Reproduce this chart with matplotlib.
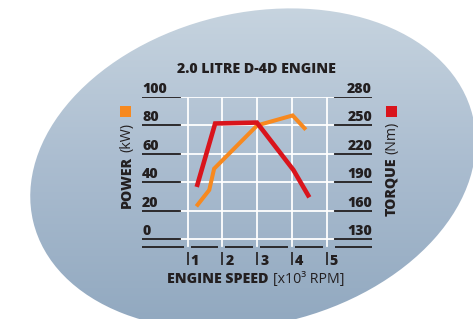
import numpy as np
import matplotlib
matplotlib.use("Agg")
import matplotlib.pyplot as plt
from matplotlib.patches import Ellipse, Rectangle
import matplotlib.transforms as mtransforms

# ---------------- data ----------------
rpm_power = [1.25, 1.62, 1.76, 3.0, 4.02, 4.4]
power_kw = [23, 34.5, 49.5, 80, 87, 77]

rpm_torque = [1.26, 1.79, 2.99, 4.04, 4.5]
torque_nm = [185, 252, 253, 203, 174]

power_ticks = [0, 20, 40, 60, 80, 100]
torque_ticks = [130, 160, 190, 220, 250, 280]
rpm_ticks = [1, 2, 3, 4, 5]

title = "2.0 LITRE D-4D ENGINE"

# ---------------- style ----------------
ORANGE = "#f7891f"
RED = "#d9141c"
DARK = "#231f20"
FONT = ["Open Sans", "DejaVu Sans"]
plt.rcParams["font.family"] = FONT
FS = 10.2
FW = 800

W, H = 473, 319
fig = plt.figure(figsize=(W / 100, H / 100), dpi=100)
fig.patch.set_facecolor("white")

# background tilted ellipse with a vertical gradient
bg = fig.add_axes([0, 0, 1, 1])
bg.set_xlim(0, W)
bg.set_ylim(H, 0)
bg.axis("off")
stops_y = [0, 160, H]
stops_c = [(0xc8, 0xd5, 0xe0), (0xab, 0xbd, 0xd0), (0x92, 0xa9, 0xc0)]
yy = np.arange(H)
grad = np.zeros((H, 1, 3))
for k in range(3):
    grad[:, 0, k] = np.interp(yy, stops_y, [cc[k] for cc in stops_c]) / 255.0
ell = Ellipse((253, 169), 452, 312, angle=-13.5, facecolor="none", edgecolor="none")
bg.add_patch(ell)
im = bg.imshow(grad, extent=(0, W, H, 0), aspect="auto", interpolation="bilinear")
im.set_clip_path(ell)

# ---------------- chart axes (pixel layout) ----------------
L, R, T, B = 142, 372, 97, 247
x1_px, unit_px = 187.7, 34.75
p0_px, p_per = 239.0, 1.42

ax = fig.add_axes([L / W, 1 - B / H, (R - L) / W, (B - T) / H])
xlo = (L - x1_px) / unit_px + 1
xhi = (R - x1_px) / unit_px + 1
ylo = -(B - p0_px) / p_per
yhi = (p0_px - T) / p_per
ax.set_xlim(xlo, xhi)
ax.set_ylim(ylo, yhi)
ax.patch.set_visible(False)
for s in ax.spines.values():
    s.set_visible(False)
ax.set_xticks([])
ax.set_yticks([])

ax2 = ax.twinx()
ax2.set_ylim(130 + 1.5 * ylo, 130 + 1.5 * yhi)
ax2.patch.set_visible(False)
for s in ax2.spines.values():
    s.set_visible(False)
ax2.set_yticks([])

gw = 1.3
wl = (180 - L) / (R - L)
wr = (333 - L) / (R - L)
br = (335 - L) / (R - L)
for val in power_ticks:
    ax.axhline(val, xmin=wl, xmax=wr, color="white", lw=gw, zorder=1)
    ax.axhline(val, xmin=0, xmax=wl, color=DARK, lw=gw, zorder=1)
    ax.axhline(val, xmin=br, xmax=1, color=DARK, lw=gw, zorder=1)
for r in rpm_ticks:
    ax.axvline(r, ymin=0.01, ymax=1, color="white", lw=gw, zorder=1)

# bottom broken baseline
xt = ax.get_xaxis_transform()
gl, gr = 4 / unit_px, 3 / unit_px
segs = [(xlo, rpm_ticks[0] - gl)]
for a, b in zip(rpm_ticks[:-1], rpm_ticks[1:]):
    segs.append((a + gr, b - gl))
segs.append(((335 - x1_px) / unit_px + 1, xhi))
for a, b in segs:
    ax.plot([a, b], [0, 0], color=DARK, lw=gw, transform=xt, clip_on=False,
            solid_capstyle="butt")

# x ticks: small bars + labels
for r in rpm_ticks:
    ax.plot([r, r], [-(251.7 - B) / (B - T), -(265 - B) / (B - T)], color=DARK,
            lw=1.2, transform=xt, clip_on=False, solid_capstyle="butt")
    ax.annotate(str(r), xy=(r, -(265 - B) / (B - T)), xycoords=xt,
                xytext=(3, 0), textcoords="offset pixels", ha="left", va="baseline",
                fontsize=FS, fontweight=FW, color=DARK)

# y tick labels
yt_l = mtransforms.blended_transform_factory(ax.transAxes, ax.transData)
for val in power_ticks:
    ax.annotate(str(val), xy=(0, val), xycoords=yt_l, xytext=(0, 4),
                textcoords="offset pixels", ha="left", va="baseline",
                fontsize=FS, fontweight=FW, color=DARK)
yt_r = mtransforms.blended_transform_factory(ax2.transAxes, ax2.transData)
for val in torque_ticks:
    ax2.annotate(str(val), xy=(1, val), xycoords=yt_r, xytext=(0, 4),
                 textcoords="offset pixels", ha="right", va="baseline",
                 fontsize=FS, fontweight=FW, color=DARK)

# data lines
ax.plot(rpm_power, power_kw, color=ORANGE, lw=2.9, solid_capstyle="butt",
        solid_joinstyle="miter", zorder=3, clip_on=False)
ax2.plot(rpm_torque, torque_nm, color=RED, lw=3.3, solid_capstyle="butt",
         solid_joinstyle="miter", zorder=4, clip_on=False)

# ---------------- texts in pixel coords ----------------
bg.text(256, 72.7, title, ha="center", va="baseline", fontsize=FS,
        fontweight=FW, color=DARK)

t1 = bg.text(167, 283.3, "ENGINE SPEED", ha="left", va="baseline", fontsize=FS,
             fontweight=FW, color=DARK)
p1 = bg.text(130.5, 208, "POWER", rotation=90, rotation_mode="anchor",
             ha="left", va="baseline", fontsize=FS, fontweight=FW, color=DARK)
q1 = bg.text(395.5, 216, "TORQUE", rotation=90, rotation_mode="anchor",
             ha="left", va="baseline", fontsize=FS, fontweight=FW, color=DARK)

fig.canvas.draw()
inv = bg.transData.inverted()
bb = t1.get_window_extent()
xe = inv.transform((bb.x1, bb.y0))[0]
bg.text(xe + 4.5, 283.3, "[x10³ RPM]", ha="left", va="baseline", fontsize=FS,
        color=DARK)
bb = p1.get_window_extent()
ye = inv.transform((bb.x0, bb.y1))[1]
bg.text(130.5, ye - 3.5, "(kW)", rotation=90, rotation_mode="anchor",
        ha="left", va="baseline", fontsize=FS, color=DARK)
bb = q1.get_window_extent()
ye = inv.transform((bb.x0, bb.y1))[1]
bg.text(395.5, ye - 3.5, "(Nm)", rotation=90, rotation_mode="anchor",
        ha="left", va="baseline", fontsize=FS, color=DARK)

bg.add_patch(Rectangle((120, 106), 11, 11, facecolor=ORANGE, edgecolor="none"))
bg.add_patch(Rectangle((386, 106), 11, 11, facecolor=RED, edgecolor="none"))

fig.savefig("out.png", dpi=100, facecolor="white")
